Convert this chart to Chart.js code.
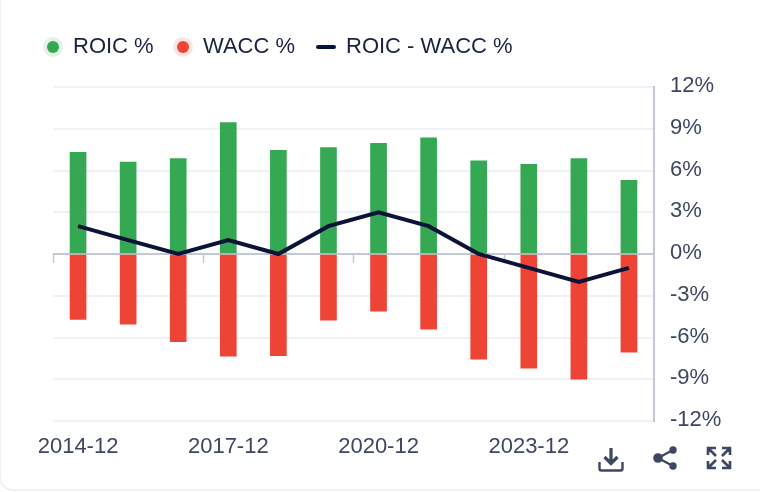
<!DOCTYPE html>
<html><head><meta charset="utf-8">
<script src="https://cdn.jsdelivr.net/npm/chart.js@4"></script>
<style>
html,body{margin:0;padding:0;background:#fff;width:760px;height:492px;overflow:hidden;font-family:"Liberation Sans",Arial,sans-serif}
#card{position:absolute;left:-1px;top:-20px;width:790px;height:511px;box-sizing:border-box;border:2px solid #eef1f5;border-radius:14px}
canvas{position:absolute;left:0;top:0}
#legend{position:absolute;left:0;top:31px;height:30px;color:#1a2240;font-size:22px;line-height:30px;white-space:nowrap}
#legend span.t{position:absolute;top:0}
#legend i{position:absolute;display:block}
.ico{position:absolute;fill:none;stroke:#3d4663}
</style></head><body>
<div id="card"></div>
<canvas id="c" width="760" height="492" style="width:760px;height:492px"></canvas>
<div id="legend"></div>
<svg class="ico" style="left:597px;top:445px" width="28" height="28" viewBox="0 0 28 28"><path d="M14 3v15M7.500 12l6.500 6.500L20.500 12" stroke-width="3.200"/><path d="M2.500 17v6.500a2 2 0 0 0 2 2h19a2 2 0 0 0 2-2V17" stroke-width="2.400"/></svg>
<svg class="ico" style="left:652px;top:445px" width="28" height="26" viewBox="0 0 28 26"><path d="M6 13L21 5M6 13l15 8" stroke-width="2.400"/><circle cx="6" cy="13" r="4.800" fill="#3d4663" stroke="none"/><circle cx="21" cy="5" r="3.700" fill="#3d4663" stroke="none"/><circle cx="21" cy="21" r="3.700" fill="#3d4663" stroke="none"/></svg>
<svg class="ico" style="left:705px;top:445px" width="28" height="26" viewBox="0 0 28 26"><path d="M3 3l8 8M25 3l-8 8M3 23l8-8M25 23l-8-8M3 10V3h8M17 3h8v7M3 16v7h8M25 16v7h-8" stroke-width="2.600"/></svg>
<script>
const categories = ['2014-12','2015-12','2016-12','2017-12','2018-12','2019-12','2020-12','2021-12','2022-12','2023-12','2024-12','2025-12'];
const roic = [7.3,6.6,6.85,9.45,7.45,7.65,7.95,8.35,6.7,6.45,6.85,5.3];
const wacc = [-4.7,-5.05,-6.3,-7.35,-7.3,-4.75,-4.1,-5.4,-7.55,-8.2,-9.0,-7.05];
const spread = [2,1,0,1,0,2,3,2,0,-1,-2,-1];
const seriesNames = ['ROIC %','WACC %','ROIC - WACC %'];
const GREEN='#34a853', RED='#ee4436', NAVY='#0b1338';

// HTML legend
const lg=document.getElementById('legend');
function dot(x,col,halo){const h=document.createElement('i');h.style.cssText=`left:${x-10}px;top:6px;width:20px;height:20px;border-radius:50%;background:${halo}`;lg.appendChild(h);
 const d=document.createElement('i');d.style.cssText=`left:${x-6}px;top:10px;width:12px;height:12px;border-radius:50%;background:${col}`;lg.appendChild(d);}
function txt(x,s){const t=document.createElement('span');t.className='t';t.style.left=x+'px';t.textContent=s;lg.appendChild(t);}
dot(53,GREEN,'#e2f2e6');txt(73,seriesNames[0]);
dot(183,RED,'#fde3e1');txt(203,seriesNames[1]);
const ln=document.createElement('i');ln.style.cssText=`left:316px;top:14px;width:20px;height:4px;border-radius:2px;background:${NAVY}`;lg.appendChild(ln);
txt(346,seriesNames[2]);

const decor={id:'decor',beforeDatasetsDraw(ch){
 const x=ch.scales.x,y=ch.scales.y,c=ch.ctx,step=(x.right-x.left)/categories.length,y0=y.getPixelForValue(0);
 c.save();c.strokeStyle='#c3c8d5';c.lineWidth=1.500;
 for(let i=0;i<categories.length;i+=3){const px=Math.round(x.getPixelForValue(i)-step/2)+.5;c.beginPath();c.moveTo(px,y0);c.lineTo(px,y0+9);c.stroke();}
 c.restore();}};

new Chart(document.getElementById('c'),{
 data:{labels:categories,datasets:[
  {type:'line',label:seriesNames[2],data:spread,borderColor:NAVY,borderWidth:4,pointRadius:0,tension:0,order:0,borderCapStyle:'butt',borderJoinStyle:'miter'},
  {type:'bar',label:seriesNames[0],data:roic,backgroundColor:GREEN,barThickness:16,order:1},
  {type:'bar',label:seriesNames[1],data:wacc,backgroundColor:RED,barThickness:16,order:2}
 ]},
 options:{responsive:false,animation:false,devicePixelRatio:1,
  layout:{padding:{left:53,top:87,right:0,bottom:0}},
  plugins:{legend:{display:false},tooltip:{enabled:false}},
  scales:{
   x:{stacked:true,grid:{display:false,drawTicks:false},border:{display:false},
      afterFit(s){s.height=71;},
      ticks:{autoSkip:false,maxRotation:0,padding:13,color:'#3d4663',font:{family:'"Liberation Sans"',size:22},
             callback(v,i){return i%3===0?categories[i]:'';}}},
   y:{position:'right',min:-12,max:12,
      afterFit(s){s.width=106;},
      afterBuildTicks(s){s.ticks=[12,9,6,3,0,-3,-6,-9,-12].map(v=>({value:v}));},
      grid:{drawTicks:false,lineWidth:2,color:c=>c.tick&&c.tick.value===0?'#c3c8d5':'#eef1f5'},
      border:{display:true,color:'#c3c8d5',width:2},
      ticks:{padding:16,crossAlign:'near',labelOffset:-1,color:'#3d4663',font:{family:'"Liberation Sans"',size:22},callback:v=>v+'%'}}
  }},
 plugins:[decor]
});
</script>
</body></html>
